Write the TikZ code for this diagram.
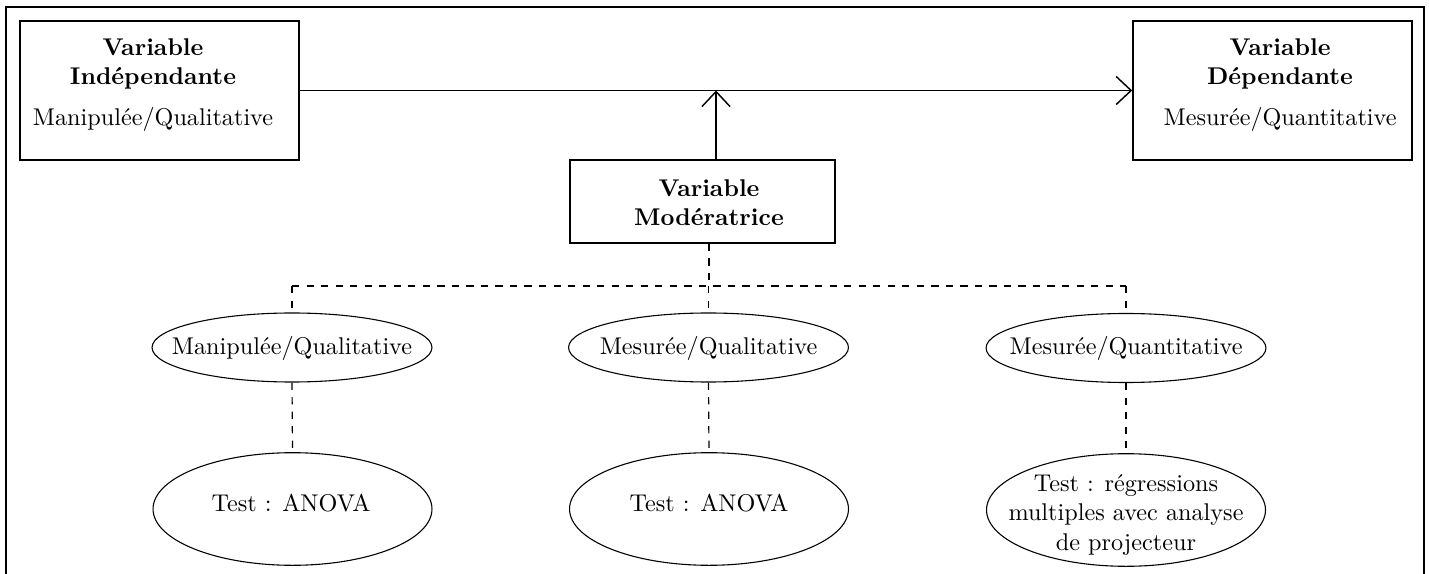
\documentclass[tikz,border=0pt]{standalone}
\usetikzlibrary{arrows.meta,shapes.geometric,calc}
\begin{document}
\begin{tikzpicture}[x=0.413pt,y=-0.413pt,
  box/.style={draw,line width=0.7pt,inner sep=0pt,minimum width=115.2pt,minimum height=57.4pt},
  modbox/.style={draw,line width=0.7pt,inner sep=0pt,minimum width=109.4pt,minimum height=34.3pt},
  ell/.style={draw,ellipse,line width=0.45pt,inner sep=0pt,minimum width=115.6pt,minimum height=28.5pt},
  bigell/.style={draw,ellipse,line width=0.45pt,inner sep=0pt,minimum width=115.2pt,minimum height=46.5pt},
  txt/.style={inner sep=0pt,align=center,font=\fontsize{10}{12}\selectfont},
  btxt/.style={inner sep=0pt,align=center,font=\fontsize{10}{12}\selectfont\bfseries},
  arr/.style={line width=0.6pt,-{Straight Barb[length=6.2pt,width=11.6pt]}},
  dashline/.style={line width=0.5pt,dashed}
]
\useasboundingbox (0,0) rectangle (1429,574);
\draw[line width=0.7pt] (6,600) -- (6,7) -- (1424,7) -- (1424,600);

% top boxes
\node[box] (vi) at (159.5,90.5) {};
\node[btxt] (vit) at (153,64) {Variable\\Indépendante};
\node[txt] (vis) at (153,119) {Manipulée/Qualitative};

\node[box] (vd) at (1272.5,90.5) {};
\node[btxt] (vdt) at (1280,64) {Variable\\Dépendante};
\node[txt] (vds) at (1280,119) {Mesurée/Quantitative};

\node[modbox] (vm) at (702.5,201.5) {};
\node[btxt] (vmt) at (709,203) {Variable\\Modératrice};

% ellipses row 1
\node[ell] (e1) at (292,347.5) {};
\node[txt] (e1t) at (292,348) {Manipulée/Qualitative};
\node[ell] (e2) at (708.5,347.5) {};
\node[txt] (e2t) at (708.5,348) {Mesurée/Qualitative};
\node[ell] (e3) at (1126,348) {};
\node[txt] (e3t) at (1126,348) {Mesurée/Quantitative};

% ellipses row 2
\node[bigell] (t1) at (292.5,509) {};
\node[txt] (t1t) at (291,503) {Test : ANOVA};
\node[bigell] (t2) at (709,509) {};
\node[txt] (t2t) at (709,503) {Test : ANOVA};
\node[bigell] (t3) at (1126,510) {};
\node[txt] (t3t) at (1126,515) {Test : régressions\\multiples avec analyse\\de projecteur};

% arrows
\draw[arr] (vi.east) -- (vd.west);
\coordinate (mid) at ($(vi.east)!0.5!(vd.west)$);
\draw[arr] (mid |- vm.north) -- (mid);

% dashed tree
\coordinate (j) at (709,286);
\draw[dashline] (j |- vm.south) -- (j);
\draw[dashline] (e1 |- j) -- (e3 |- j);
\draw[dashline] (e1 |- j) -- (e1.north);
\draw[dashline] (e2 |- j) -- (e2.north);
\draw[dashline] (e3 |- j) -- (e3.north);
\draw[dashline] (e1.south) -- (t1.north);
\draw[dashline] (e2.south) -- (t2.north);
\draw[dashline] (e3.south) -- (t3.north);
\end{tikzpicture}
\end{document}
